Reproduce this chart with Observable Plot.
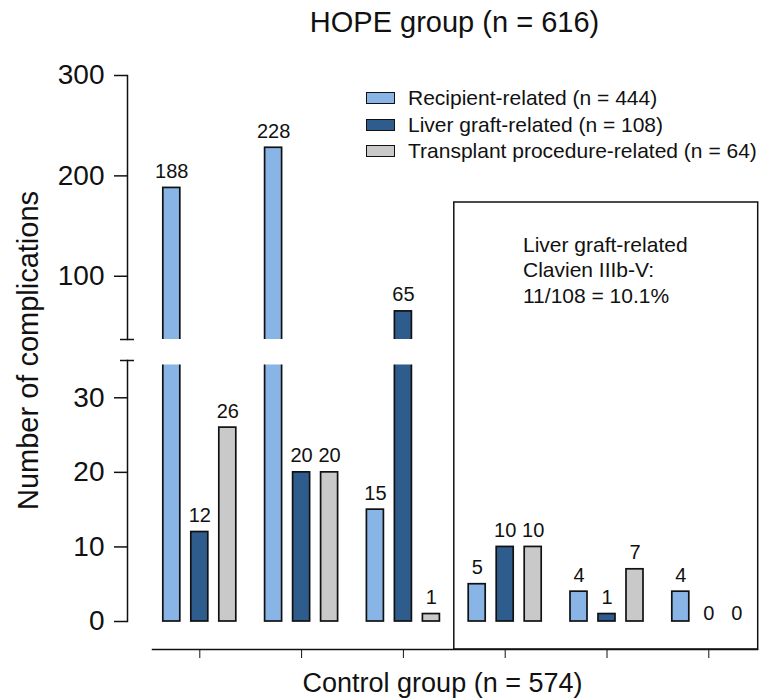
<!DOCTYPE html>
<html>
<head>
<meta charset="utf-8">
<script src="https://cdn.jsdelivr.net/npm/d3@7"></script>
<script src="https://cdn.jsdelivr.net/npm/@observablehq/plot@0.6"></script>
<style>
  body { margin: 0; background: #fff; font-family: "Liberation Sans", Arial, Helvetica, sans-serif; color: #111; }
  #wrap { position: relative; width: 761px; height: 699px; }
  #legend { position: absolute; left: 366px; top: 85px; font-size: 21px; }
  #legend .row { display: flex; align-items: center; height: 26.4px; white-space: nowrap; }
  #legend .sw { box-sizing: border-box; width: 29px; height: 12px; border: 1.7px solid #111; margin-right: 13px; }
</style>
</head>
<body>
<div id="wrap"></div>
<script>
// ---- data ----
const grades = ["I", "II", "IIIa", "IIIb", "IV", "V"];
const seriesNames = ["Recipient-related", "Liver graft-related", "Transplant procedure-related"];
const recipient = [188, 228, 15, 5, 4, 4];
const graft = [12, 20, 65, 10, 1, 0];
const procedure = [26, 20, 1, 10, 7, 0];
const colors = ["#89b5e6", "#2e5c8c", "#c9c9c9"];
const yTicks = [0, 10, 20, 30, 100, 200, 300];
const titleText = "HOPE group (n = 616)";
const xTitle = "Control group (n = 574)";
const yTitle = "Number of complications";
const boxGrades = ["IIIb", "IV", "V"];
const noteText = "Liver graft-related\nClavien IIIb-V:\n11/108 = 10.1%";

// ---- derived ----
const seriesValues = [recipient, graft, procedure];
const labels = seriesNames.map((s, i) => `${s} (n = ${d3.sum(seriesValues[i])})`);
const table = seriesValues.flatMap((vals, si) =>
  vals.map((v, gi) => ({grade: grades[gi], series: labels[si], si, value: v})));

// ---- broken y axis: lower 0–35, upper 37–300 (compressed) ----
const breakLow = 35, breakHigh = 37, yMax = 300;
const gapUnits = 2.816, upperRatio = 0.13461;
const breakY = v => v <= breakLow ? v : breakLow + gapUnits + (v - breakHigh) * upperRatio;

// ---- layout ----
const W = 761, H = 699;
const margin = {top: 202, right: 4, bottom: 50, left: 127};
const xRange = [148.4, 759.2];
const yRange = [621, 75];
const gap = [34.4, breakHigh];
const bandW = (xRange[1] - xRange[0]) / grades.length;
const barW = 17, barStep = 28;
const ys = Plot.scale({y: {domain: [0, breakY(yMax)], range: yRange}});
const py = v => ys.apply(breakY(v));
const frameBottom = H - margin.bottom;
const frameInnerW = W - margin.right - margin.left;
const font = "Liberation Sans, Arial, Helvetica, sans-serif";
const ink = "#111";

const marks = [];
seriesValues.forEach((vals, si) => {
  const data = table.filter(d => d.si === si);
  marks.push(Plot.barY(data, {
    x: "grade", y: "value", fill: "series", stroke: ink, strokeWidth: 1.7,
    dx: (si - 1) * barStep, insetLeft: (bandW - barW) / 2, insetRight: (bandW - barW) / 2
  }));
});
// axis break gap through the bars
marks.push(Plot.rect([0], {y1: gap[0], y2: gap[1], fill: "white"}));
// value labels
seriesValues.forEach((vals, si) => {
  const data = table.filter(d => d.si === si);
  const dx = (si - 1) * barStep;
  marks.push(Plot.text(data.filter(d => d.value > 0), {x: "grade", y: "value", text: d => String(d.value), dx, dy: -16.5, fontSize: 20, fill: ink}));
  marks.push(Plot.text(data.filter(d => d.value === 0), {x: "grade", y: "value", text: d => String(d.value), dx, dy: -8, fontSize: 20, fill: ink}));
});
// annotation box over Clavien IIIb-V
marks.push(Plot.rect([0], {x1: () => boxGrades[0], x2: () => boxGrades[boxGrades.length - 1], fill: "none", stroke: ink, strokeWidth: 1.5, insetRight: 1.5}));
marks.push(Plot.text([noteText], {x: () => boxGrades[1], frameAnchor: "top", textAnchor: "start", lineAnchor: "top", dx: -84, dy: 31, fontSize: 21, lineHeight: 1.22, fill: ink}));
// x axis line
marks.push(Plot.frame({anchor: "bottom", insetLeft: 25, stroke: ink, strokeWidth: 1.5}));
// broken y axis: segments, caps, ticks, labels
marks.push(Plot.frame({anchor: "left", insetTop: py(yMax) - margin.top, insetBottom: frameBottom - py(breakHigh), stroke: ink, strokeWidth: 1.5}));
marks.push(Plot.frame({anchor: "left", insetTop: py(breakLow) - margin.top, insetBottom: frameBottom - py(0), stroke: ink, strokeWidth: 1.5}));
marks.push(Plot.ruleY([breakLow, breakHigh], {y: d => d, insetLeft: -7, insetRight: frameInnerW - 7, stroke: ink, strokeWidth: 1.5}));
marks.push(Plot.ruleY(yTicks, {y: d => d, insetLeft: -13, insetRight: frameInnerW, stroke: ink, strokeWidth: 1.5}));
marks.push(Plot.text(yTicks, {y: d => d, text: d => String(d), frameAnchor: "left", textAnchor: "end", lineAnchor: "middle", dx: -23, fontSize: 28, fill: ink}));
// titles
marks.push(Plot.text([titleText], {frameAnchor: "top", lineAnchor: "middle", textAnchor: "middle", dx: 12, dy: -180, fontSize: 29, fill: ink}));
marks.push(Plot.text([xTitle], {frameAnchor: "bottom", lineAnchor: "middle", textAnchor: "middle", dy: 34, fontSize: 27, fill: ink}));
marks.push(Plot.text([yTitle], {frameAnchor: "left", lineAnchor: "middle", textAnchor: "middle", rotate: -90, dx: -99, dy: -75.5, fontSize: 29, fill: ink}));

const chart = Plot.plot({
  width: W, height: H,
  marginTop: margin.top, marginRight: margin.right, marginBottom: margin.bottom, marginLeft: margin.left,
  style: {fontSize: "28px", fontFamily: font, background: "white", color: ink, overflow: "visible"},
  x: {type: "band", domain: grades, range: xRange, padding: 0, round: false, axis: "bottom", tickSize: 9, tickFormat: () => "", label: null},
  y: {type: "linear", transform: breakY, domain: [0, breakY(yMax)], range: yRange, axis: null},
  color: {type: "ordinal", domain: labels, range: colors},
  marks
});
const wrap = document.getElementById("wrap");
wrap.appendChild(chart);

// legend
const legend = d3.select(wrap).append("div").attr("id", "legend");
const rows = legend.selectAll("div").data(labels).join("div").attr("class", "row");
rows.append("span").attr("class", "sw").style("background", (d, i) => colors[i]);
rows.append("span").text(d => d);
</script>
</body>
</html>
